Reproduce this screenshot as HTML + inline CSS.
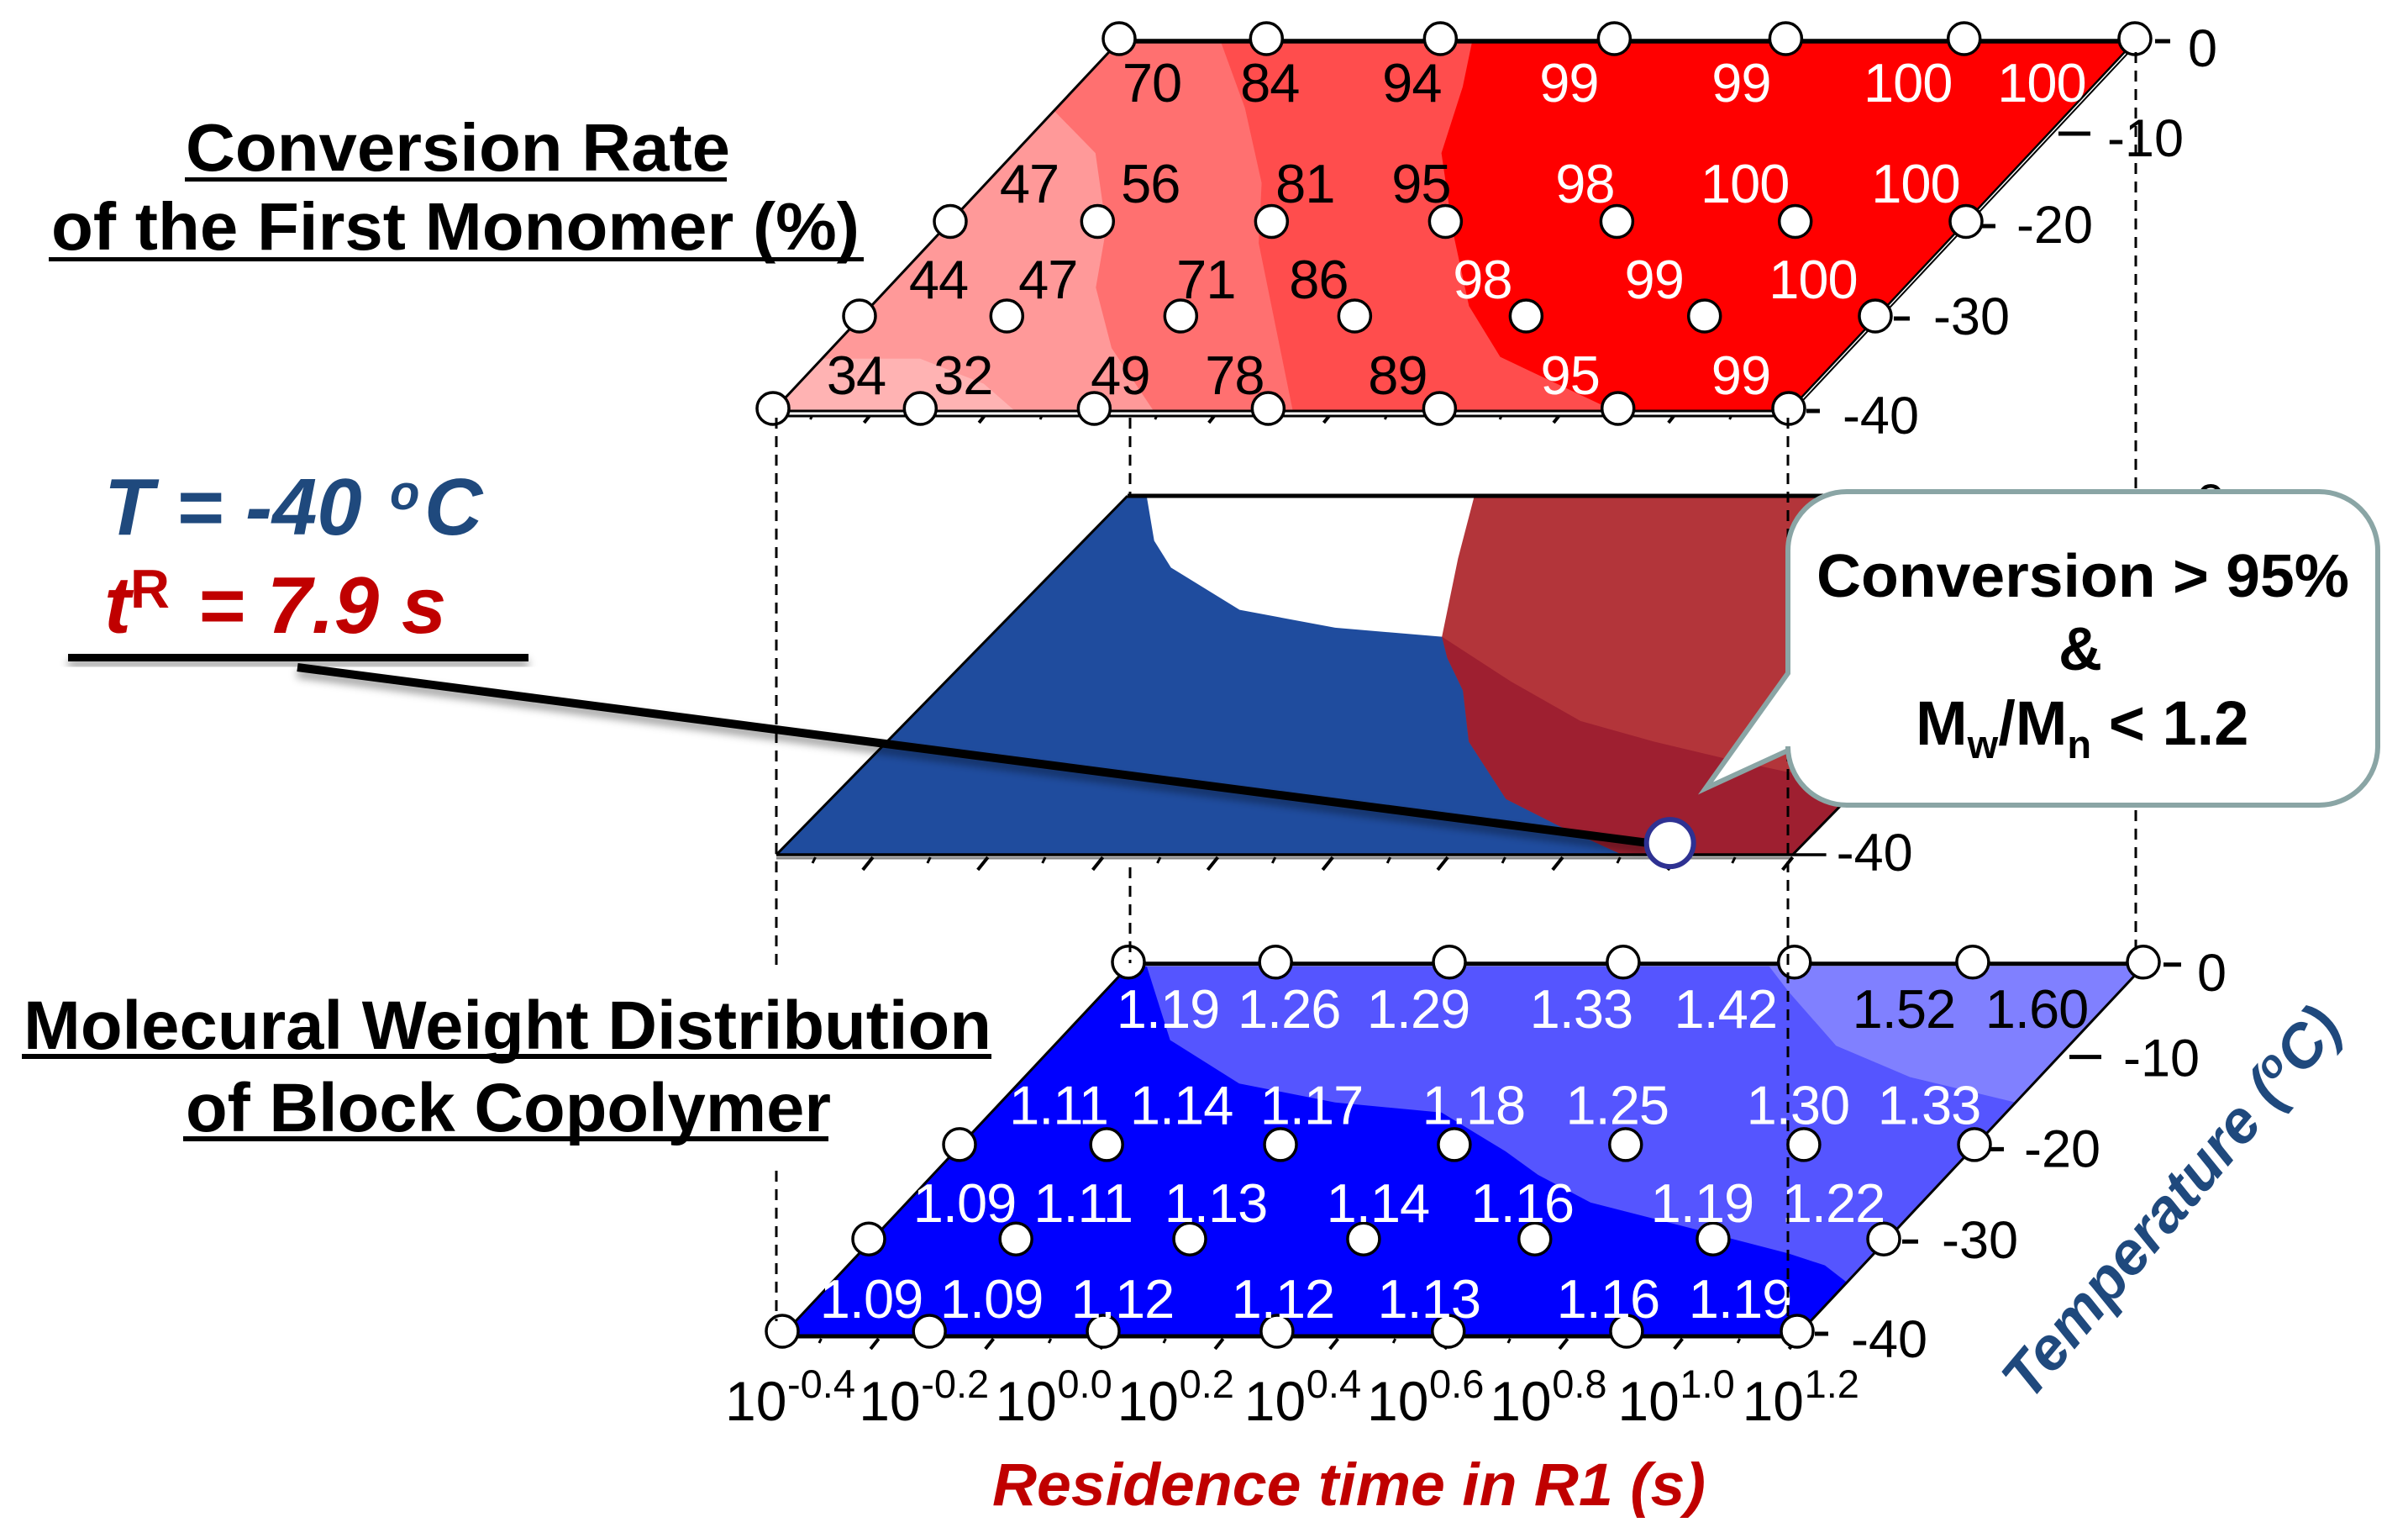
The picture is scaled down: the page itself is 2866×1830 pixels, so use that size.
<!DOCTYPE html>
<html lang="en">
<head>
<meta charset="utf-8">
<title>Conversion Rate and Molecular Weight Distribution Maps</title>
<style>
html,body{margin:0;padding:0;background:#fff;}
svg{display:block;width:2866px;height:1830px;font-family:"Liberation Sans",Arial,sans-serif;}
</style>
</head>
<body>
<svg id="chart" xmlns="http://www.w3.org/2000/svg" width="2866" height="1830" viewBox="0 0 2866 1830">
  <defs>
    <filter id="soft-shadow" x="-5%" y="-30%" width="110%" height="200%">
      <feDropShadow dx="0" dy="7" stdDeviation="5" flood-color="#000" flood-opacity="0.4"/>
    </filter>
  </defs>
  <rect x="0" y="0" width="2866" height="1830" fill="#fff"/>
  <g id="plot-layer"></g>

  <g id="callout">
    <path d="M2198,585 H2760 A70,70 0 0 1 2830,655 V888 A70,70 0 0 1 2760,958 H2198 A70,70 0 0 1 2128,888 V893 L2030,938 L2128,801 V655 A70,70 0 0 1 2198,585 Z" fill="#fff" stroke="#8aa5a5" stroke-width="6"/>
    <text x="2162" y="710" font-size="72" font-weight="700" textLength="634" lengthAdjust="spacingAndGlyphs">Conversion &gt; 95%</text>
    <text x="2476" y="797" font-size="72" font-weight="700" text-anchor="middle">&amp;</text>
    <text x="2280" y="886" font-size="74" font-weight="700">M<tspan font-size="47" dy="16">w</tspan><tspan dy="-16">/M</tspan><tspan font-size="47" dy="16">n</tspan><tspan dy="-16"> &lt; 1.2</tspan></text>
  </g>

  <g>
    <text x="221" y="203" font-size="80" font-weight="700" textLength="648" lengthAdjust="spacingAndGlyphs">Conversion Rate</text>
    <rect x="220" y="211" width="645" height="5" fill="#000"/>
    <text x="61" y="297" font-size="80" font-weight="700" textLength="962" lengthAdjust="spacingAndGlyphs">of the First Monomer (%)</text>
    <rect x="58" y="306" width="970" height="5" fill="#000"/>
  </g>

  <g>
    <text x="28" y="1248" font-size="82" font-weight="700" textLength="1152" lengthAdjust="spacingAndGlyphs">Molecural Weight Distribution</text>
    <rect x="26" y="1254" width="1154" height="6" fill="#000"/>
    <text x="221" y="1346" font-size="82" font-weight="700" textLength="768" lengthAdjust="spacingAndGlyphs">of Block Copolymer</text>
    <rect x="218" y="1352" width="768" height="6" fill="#000"/>
  </g>

  <g>
    <text font-size="96" font-weight="700" font-style="italic" fill="#1f497d"><tspan x="124" y="636">T = -40 </tspan><tspan x="464" y="606" font-size="58">o</tspan><tspan x="505" y="636">C</tspan></text>
    <text font-weight="700" fill="#c00000"><tspan x="124" y="753" font-size="96" font-style="italic">t</tspan><tspan x="155" y="723" font-size="65">R</tspan><tspan x="235" y="753" font-size="96" font-style="italic">= 7.9 s</tspan></text>
    <rect x="81" y="778" width="548" height="9" fill="#000" filter="url(#soft-shadow)"/>
  </g>

  <text x="1181" y="1791" font-size="71" font-weight="700" font-style="italic" fill="#c00000" textLength="849" lengthAdjust="spacingAndGlyphs">Residence time in R1 (s)</text>
  <text transform="translate(2416,1669) rotate(-50)" font-size="72" font-weight="700" font-style="italic" fill="#1f497d">Temperature (<tspan font-size="46" dy="-24">o</tspan><tspan dy="24">C)</tspan></text>
  <g id="overlay-layer"></g>

<script>
// ---- Shared axes ----
const logTimes = [-0.4, -0.168, 0.106, 0.38, 0.65, 0.931, 1.2];
const temperatures = [0, -20, -30, -40];
const xTickExponents = ['-0.4', '-0.2', '0.0', '0.2', '0.4', '0.6', '0.8', '1.0', '1.2'];
const tempTickValues = [0, -10, -20, -30, -40];

// ---- Printed values (rows follow temperatures, columns follow logTimes) ----
const conversionT0 = [70, 84, 94, 99, 99, 100, 100];
const conversionT20 = [47, 56, 81, 95, 98, 100, 100];
const conversionT30 = [44, 47, 71, 86, 98, 99, 100];
const conversionT40 = [34, 32, 49, 78, 89, 95, 99];
const dispersityT0 = [1.19, 1.26, 1.29, 1.33, 1.42, 1.52, 1.60];
const dispersityT20 = [1.11, 1.14, 1.17, 1.18, 1.25, 1.30, 1.33];
const dispersityT30 = [1.09, 1.11, 1.13, 1.14, 1.16, 1.19, 1.22];
const dispersityT40 = [1.09, 1.09, 1.12, 1.12, 1.13, 1.16, 1.19];

// ---- Contour boundaries as [log10 time, temperature] ----
const conversionContour95 = [[0.156,0],[0.208,-4.9],[0.272,-12.05],[0.405,-20.5],[0.541,-28.6],[0.665,-34.1],[0.738,-35.75],[0.896,-39.3],[0.955,-40]];
const conversionContour80 = [[-0.24,0],[-0.104,-7.18],[0.033,-15.3],[0.117,-21.8],[0.278,-31.5],[0.419,-40]];
const conversionContour60 = [[-0.4,-7.5],[-0.273,-12.05],[-0.145,-20.2],[-0.074,-26.6],[0.04,-33.15],[0.2,-40]];
const conversionContour40 = [[-0.4,-34.3],[-0.246,-34.3],[-0.109,-37],[-0.018,-40]];

const windowConversion95 = [[0.146,0],[0.217,-7],[0.312,-15.7],[0.353,-18.06],[0.428,-21.7],[0.516,-27.4],[0.663,-33.8],[0.788,-36.8],[0.932,-40]];
const windowDispersity12 = [[-0.37,0],[-0.289,-5],[-0.221,-8],[-0.048,-12.7],[0.13,-14.7],[0.312,-15.7],[0.49,-20.7],[0.66,-25.1],[0.808,-27.4],[0.954,-29.4],[1.066,-30.8],[1.2,-32]];

const dispersityContour12 = [[-0.371,0],[-0.225,-8],[-0.052,-12.7],[0.127,-14.75],[0.31,-15.85],[0.468,-20.05],[0.554,-22.6],[0.678,-25.6],[0.886,-28.55],[1.064,-31.1],[1.14,-32.4],[1.2,-34.25]];
const dispersityContour15 = [[0.61,0],[0.677,-2.7],[0.833,-8.6],[0.996,-12],[1.2,-14.75]];

const optimumPoint = [0.989, -38.7];

// ---- Helpers ----
const SVG_NS = 'http://www.w3.org/2000/svg';
const plot = document.getElementById('plot-layer');
const overlay = document.getElementById('overlay-layer');

function make(parent, tag, attrs, text) {
  const el = document.createElementNS(SVG_NS, tag);
  Object.keys(attrs).forEach(function (k) { el.setAttribute(k, attrs[k]); });
  if (text !== undefined) el.textContent = text;
  parent.appendChild(el);
  return el;
}
// originX / originY are the pixel position of (log t = -0.4, T = -40)
function scales(originX, originY, perLog, perDegX, perDegY) {
  return {
    x: function (logT, T) { return originX + (logT + 0.4) * perLog + (T + 40) * perDegX; },
    y: function (T) { return originY - (T + 40) * perDegY; }
  };
}
function toPoints(s, pairs, dy) {
  return pairs.map(function (p) { return s.x(p[0], p[1]).toFixed(1) + ',' + (s.y(p[1]) + dy).toFixed(1); }).join(' ');
}
const LEFT = logTimes[0];
const RIGHT = logTimes[logTimes.length - 1];
const TMAX = tempTickValues[0];
const TMIN = tempTickValues[tempTickValues.length - 1];
const TL = [LEFT, TMAX], TR = [RIGHT, TMAX], BL = [LEFT, TMIN], BR = [RIGHT, TMIN];

function drawXTicks(group, s, yBase, longLen, shortLen) {
  for (let i = 0; i < 18; i++) {
    const x = s.x(RIGHT - i * 0.0905, TMIN);
    const isLong = i % 2 === 0;
    const t = make(group, 'line', {
      x1: x, y1: yBase,
      x2: isLong ? x - longLen * 0.8 : x - shortLen * 0.5,
      y2: yBase + (isLong ? longLen : shortLen),
      stroke: '#000', 'stroke-width': isLong ? 4 : 3
    });
    
    
  }
}
function drawTempAxis(group, s, tickDx, labelDx, labelDy, ticksShown) {
  tempTickValues.forEach(function (T, i) {
    if (ticksShown.indexOf(T) < 0) return;
    const edge = s.x(RIGHT, T);
    const tk = make(group, 'line', {
      x1: edge + tickDx[i][0], x2: edge + tickDx[i][1],
      y1: s.y(T) + 3, y2: s.y(T) + 3, stroke: '#000', 'stroke-width': 5
    });
    
    
    const lb = make(group, 'text', {
      x: edge + labelDx[i], y: s.y(T) + labelDy[i], 'font-size': 63, fill: '#000'
    }, String(T));
    
    
  });
}
function drawGrid(group, s, rows, nudgeX, nudgeY, format, colorOf) {
  // the -20 row of sample points sits slightly off the straight edge in the figure
  const rowShiftX = [0, 5, 0, 0];
  const rowShiftY = [0, -2.5, 0, 0];
  temperatures.forEach(function (T, r) {
    logTimes.forEach(function (lt) {
      const c = make(group, 'circle', { cx: s.x(lt, T) + rowShiftX[r], cy: s.y(T) + rowShiftY[r], r: 19, fill: '#fff', stroke: '#000', 'stroke-width': 3.5 });
      
      
    });
  });
  temperatures.forEach(function (T, r) {
    logTimes.forEach(function (lt, col) {
      const v = rows[r][col];
      const t = make(group, 'text', {
        x: s.x(lt, T) + nudgeX[r][col], y: s.y(T) + nudgeY[r],
        'font-size': 65, 'text-anchor': 'middle', 'letter-spacing': '-1', fill: colorOf(v, r, col)
      }, format(v));
      
      
    });
  });
}

// ---- Top panel: conversion ----
(function () {
  const s = scales(920, 486, 755.6, 10.3, 11);
  const g = make(plot, 'g', {});
  
  
  const D = 3.5;
  const base = make(g, 'polygon', { points: toPoints(s, [TL, TR, BR, BL], D), fill: '#ff9999' });
  
  
  const band60 = make(g, 'polygon', { points: toPoints(s, conversionContour60.concat([BR, TR, TL]), D), fill: '#ff7070' });
  
  
  const band80 = make(g, 'polygon', { points: toPoints(s, conversionContour80.concat([BR, TR]), D), fill: '#ff4d4d' });
  
  
  const band95 = make(g, 'polygon', { points: toPoints(s, conversionContour95.concat([BR, TR]), D), fill: '#ff0000' });
  
  
  const band40 = make(g, 'polygon', { points: toPoints(s, conversionContour40.concat([BL]), D), fill: '#ffb3b3' });
  
  

  const frame = make(g, 'g', {});
  
  
  make(frame, 'line', { x1: s.x(LEFT, TMAX), y1: s.y(TMAX) + 3, x2: s.x(RIGHT, TMAX), y2: s.y(TMAX) + 3, stroke: '#000', 'stroke-width': 5.5 });
  make(frame, 'line', { x1: s.x(LEFT, TMIN), y1: s.y(TMIN) + 3, x2: s.x(RIGHT, TMIN), y2: s.y(TMIN) + 3, stroke: '#000', 'stroke-width': 3 });
  make(frame, 'line', { x1: s.x(LEFT, TMIN), y1: s.y(TMIN) + 9, x2: s.x(RIGHT, TMIN), y2: s.y(TMIN) + 9, stroke: '#000', 'stroke-width': 3 });
  make(frame, 'line', { x1: s.x(LEFT, TMIN), y1: s.y(TMIN) + 3, x2: s.x(LEFT, TMAX), y2: s.y(TMAX) + 3, stroke: '#000', 'stroke-width': 3 });
  make(frame, 'line', { x1: s.x(RIGHT, TMIN), y1: s.y(TMIN) + 3, x2: s.x(RIGHT, TMAX), y2: s.y(TMAX) + 3, stroke: '#000', 'stroke-width': 2.5 });
  make(frame, 'line', { x1: s.x(RIGHT, TMIN) + 5, y1: s.y(TMIN) + 3, x2: s.x(RIGHT, TMAX) + 5, y2: s.y(TMAX) + 3, stroke: '#000', 'stroke-width': 2 });
  drawXTicks(g, s, 495, 8, 4);
  drawTempAxis(g, s,
    [[24, 42], [12, 50], [20, 40], [22, 41], [21, 37]],
    [63, 70, 65, 69, 64], [33, 30, 23, 22, 30], tempTickValues);
  const nudgeX = [
    [39, 4, -34, -54, -53, -67, -111],
    [99, 68, 45, -24, -33, -55, -55],
    [94, 49, 30, -43, -52, -60, -74],
    [99, 51, 31, -40, -50, -57, -57]
  ];
  drawGrid(g, s, [conversionT0, conversionT20, conversionT30, conversionT40], nudgeX, [75, -25, -21, -17],
    function (v) { return String(v); },
    function (v, r, c) { return (v >= 96 || (v === 95 && r === 3)) ? '#fff' : '#000'; });
})();

// ---- Middle panel: operating window ----
(function () {
  const s = scales(924, 1017, 756, 10.45, 10.675);
  const g = make(plot, 'g', {});
  
  
  const defs = make(g, 'defs', {});
  const clip = make(defs, 'clipPath', { id: 'dispersity-ok-clip' });
  make(clip, 'polygon', { points: toPoints(s, [TL].concat(windowDispersity12, [BR, BL]), 0) });
  const blue = make(g, 'polygon', { points: toPoints(s, [TL].concat(windowDispersity12, [BR, BL]), 0), fill: '#1f4c9e' });
  
  
  const redPts = toPoints(s, windowConversion95.concat([BR, TR]), 0);
  const red = make(g, 'polygon', { points: redPts, fill: '#b3353a' });
  
  
  const dark = make(g, 'polygon', { points: redPts, fill: '#9e1f30', 'clip-path': 'url(#dispersity-ok-clip)' });
  
  

  const frame = make(g, 'g', {});
  
  
  make(frame, 'line', { x1: s.x(LEFT, TMIN), y1: s.y(TMIN) + 4, x2: s.x(RIGHT, TMIN), y2: s.y(TMIN) + 4, stroke: '#888', 'stroke-width': 3 });
  make(frame, 'line', { x1: s.x(LEFT, TMIN), y1: s.y(TMIN), x2: s.x(RIGHT, TMIN) + 40, y2: s.y(TMIN), stroke: '#000', 'stroke-width': 3.5 });
  make(frame, 'line', { x1: s.x(LEFT, TMAX), y1: s.y(TMAX), x2: s.x(RIGHT, TMAX), y2: s.y(TMAX), stroke: '#000', 'stroke-width': 5 });
  make(frame, 'line', { x1: s.x(LEFT, TMIN), y1: s.y(TMIN), x2: s.x(LEFT, TMAX), y2: s.y(TMAX), stroke: '#000', 'stroke-width': 3 });
  make(frame, 'line', { x1: s.x(RIGHT, TMIN), y1: s.y(TMIN), x2: s.x(RIGHT, TMAX), y2: s.y(TMAX), stroke: '#000', 'stroke-width': 3 });
  drawXTicks(g, s, 1020, 15, 7);
  const t40 = make(g, 'text', { x: s.x(RIGHT, TMIN) + 52, y: s.y(TMIN) + 19, 'font-size': 63 }, String(TMIN));
  
  
  const t0 = make(g, 'text', { x: s.x(RIGHT, TMAX) + 62, y: s.y(TMAX) + 30, 'font-size': 63 }, String(TMAX));
  
  
})();

// ---- Bottom panel: dispersity ----
const bottomScale = scales(931, 1584, 755, 10.3, 10.98);
(function () {
  const s = bottomScale;
  const g = make(plot, 'g', {});
  
  
  const D = 5;
  const base = make(g, 'polygon', { points: toPoints(s, [TL, TR, BR, BL], D), fill: '#0000ff' });
  
  
  const b12 = make(g, 'polygon', { points: toPoints(s, dispersityContour12.concat([TR]), D), fill: '#5555ff' });
  
  
  const b15 = make(g, 'polygon', { points: toPoints(s, dispersityContour15.concat([TR]), D), fill: '#8080ff' });
  
  

  const frame = make(g, 'g', {});
  
  
  make(frame, 'line', { x1: s.x(LEFT, TMAX), y1: s.y(TMAX) + 2, x2: s.x(RIGHT, TMAX), y2: s.y(TMAX) + 2, stroke: '#000', 'stroke-width': 5 });
  make(frame, 'line', { x1: s.x(LEFT, TMIN), y1: s.y(TMIN) + 6, x2: s.x(RIGHT, TMIN), y2: s.y(TMIN) + 6, stroke: '#000', 'stroke-width': 5 });
  make(frame, 'line', { x1: s.x(LEFT, TMIN), y1: s.y(TMIN) + 5, x2: s.x(LEFT, TMAX), y2: s.y(TMAX) + 5, stroke: '#000', 'stroke-width': 3 });
  make(frame, 'line', { x1: s.x(RIGHT, TMIN), y1: s.y(TMIN) + 5, x2: s.x(RIGHT, TMAX), y2: s.y(TMAX) + 5, stroke: '#000', 'stroke-width': 3 });
  drawXTicks(g, s, 1593, 12, 5);
  drawTempAxis(g, s,
    [[24, 45], [15, 53], [20, 40], [22, 41], [21, 37]],
    [64, 79, 64, 69, 64], [34, 26, 24, 23, 31], tempTickValues);
  const nudgeX = [
    [47, 16, -37, -50, -82, -82, -127],
    [123, 94, 42, 28, -5, -2, -49],
    [114, 80, 31, 17, -15, -13, -60],
    [106, 74, 23, 7, -23, -22, -68]
  ];
  drawGrid(g, s, [dispersityT0, dispersityT20, dispersityT30, dispersityT40], nudgeX, [78, -27, -20, -16],
    function (v) { return v.toFixed(2); },
    function (v) { return v > 1.5 ? '#000' : '#fff'; });

  // x tick labels
  const labelNudge = [0, 8, 19, 13, 13, 8, 3, 4, 1];
  xTickExponents.forEach(function (e, i) {
    const x = 863 + (parseFloat(e) + 0.4) * 756 + labelNudge[i];
    const t = make(g, 'text', { fill: '#000' });
    
    
    make(t, 'tspan', { x: x, y: 1690, 'font-size': 66 }, '10');
    make(t, 'tspan', { x: x + 74, y: 1663, 'font-size': 47 }, e);
  });
})();

// ---- Overlays: guide lines and leader ----
(function () {
  const guides = [
    [924, 497, 1149], [924, 1393, 1572],
    [1345, 497, 590], [1345, 1032, 1146],
    [2128, 497, 1568],
    [2542, 62, 1130]
  ];
  const g = make(overlay, 'g', {});
  
  
  guides.forEach(function (d) {
    const l = make(g, 'line', { x1: d[0], x2: d[0], y1: d[1], y2: d[2], stroke: '#000', 'stroke-width': 3, 'stroke-dasharray': '13 9' });
    
    
  });
  const callout = document.getElementById('callout');
  callout.parentNode.insertBefore(overlay, callout);

  const s = scales(924, 1017, 756, 10.45, 10.675);
  const mx = s.x(optimumPoint[0], optimumPoint[1]);
  const my = s.y(optimumPoint[1]);
  const leader = make(overlay, 'line', { x1: 354, y1: 794, x2: mx - 25, y2: my, stroke: '#000', 'stroke-width': 10, filter: 'url(#soft-shadow)' });
  
  
  const marker = make(overlay, 'circle', { cx: mx, cy: my, r: 28, fill: '#fff', stroke: '#2e3192', 'stroke-width': 6 });
  
  
})();
</script>
</svg>
</body>
</html>
